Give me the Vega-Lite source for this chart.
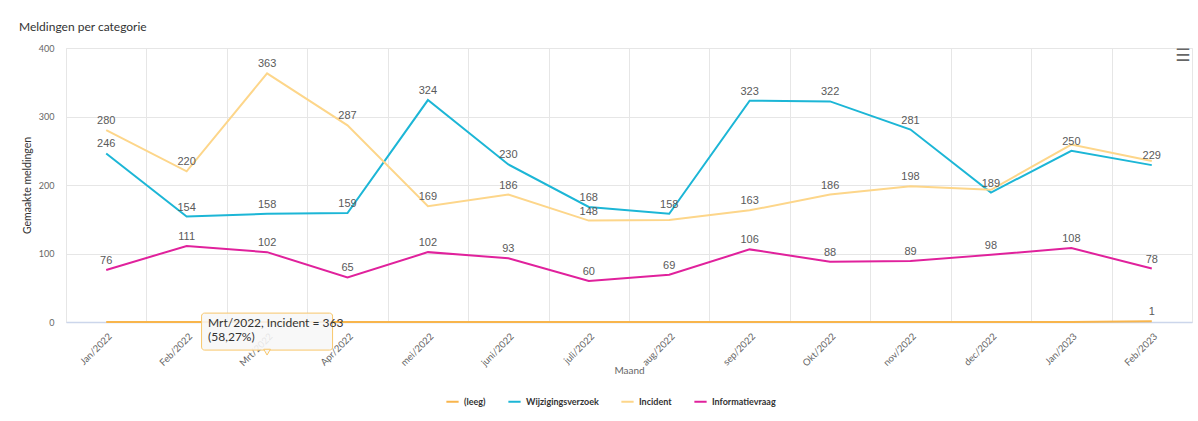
{
  "$schema": "https://vega.github.io/schema/vega-lite/v6.json",
  "autosize": {"type": "none"},
  "width": 1126,
  "height": 274,
  "padding": {"left": 66, "top": 48, "right": 6, "bottom": 99},
  "background": "white",
  "title": {
    "text": "Meldingen per categorie",
    "anchor": "start",
    "frame": "group",
    "dx": -47,
    "offset": 10,
    "font": "Lato",
    "fontSize": 12,
    "fontWeight": "normal",
    "color": "#333333"
  },
  "config": {
    "view": {"stroke": "#e6e6e6", "strokeWidth": 1},
    "font": "Lato"
  },
  "datasets": {
    "meldingen": [
      {"maand": "Jan/2022", "categorie": "(leeg)", "aantal": 0},
      {"maand": "Feb/2022", "categorie": "(leeg)", "aantal": 0},
      {"maand": "Mrt/2022", "categorie": "(leeg)", "aantal": 0},
      {"maand": "Apr/2022", "categorie": "(leeg)", "aantal": 0},
      {"maand": "mei/2022", "categorie": "(leeg)", "aantal": 0},
      {"maand": "juni/2022", "categorie": "(leeg)", "aantal": 0},
      {"maand": "juli/2022", "categorie": "(leeg)", "aantal": 0},
      {"maand": "aug/2022", "categorie": "(leeg)", "aantal": 0},
      {"maand": "sep/2022", "categorie": "(leeg)", "aantal": 0},
      {"maand": "Okt/2022", "categorie": "(leeg)", "aantal": 0},
      {"maand": "nov/2022", "categorie": "(leeg)", "aantal": 0},
      {"maand": "dec/2022", "categorie": "(leeg)", "aantal": 0},
      {"maand": "Jan/2023", "categorie": "(leeg)", "aantal": 0},
      {"maand": "Feb/2023", "categorie": "(leeg)", "aantal": 1},
      {"maand": "Jan/2022", "categorie": "Wijzigingsverzoek", "aantal": 246},
      {"maand": "Feb/2022", "categorie": "Wijzigingsverzoek", "aantal": 154},
      {"maand": "Mrt/2022", "categorie": "Wijzigingsverzoek", "aantal": 158},
      {"maand": "Apr/2022", "categorie": "Wijzigingsverzoek", "aantal": 159},
      {"maand": "mei/2022", "categorie": "Wijzigingsverzoek", "aantal": 324},
      {"maand": "juni/2022", "categorie": "Wijzigingsverzoek", "aantal": 230},
      {"maand": "juli/2022", "categorie": "Wijzigingsverzoek", "aantal": 168},
      {"maand": "aug/2022", "categorie": "Wijzigingsverzoek", "aantal": 158},
      {"maand": "sep/2022", "categorie": "Wijzigingsverzoek", "aantal": 323},
      {"maand": "Okt/2022", "categorie": "Wijzigingsverzoek", "aantal": 322},
      {"maand": "nov/2022", "categorie": "Wijzigingsverzoek", "aantal": 281},
      {"maand": "dec/2022", "categorie": "Wijzigingsverzoek", "aantal": 189},
      {"maand": "Jan/2023", "categorie": "Wijzigingsverzoek", "aantal": 250},
      {"maand": "Feb/2023", "categorie": "Wijzigingsverzoek", "aantal": 229},
      {"maand": "Jan/2022", "categorie": "Incident", "aantal": 280},
      {"maand": "Feb/2022", "categorie": "Incident", "aantal": 220},
      {"maand": "Mrt/2022", "categorie": "Incident", "aantal": 363},
      {"maand": "Apr/2022", "categorie": "Incident", "aantal": 287},
      {"maand": "mei/2022", "categorie": "Incident", "aantal": 169},
      {"maand": "juni/2022", "categorie": "Incident", "aantal": 186},
      {"maand": "juli/2022", "categorie": "Incident", "aantal": 148},
      {"maand": "aug/2022", "categorie": "Incident", "aantal": 149},
      {"maand": "sep/2022", "categorie": "Incident", "aantal": 163},
      {"maand": "Okt/2022", "categorie": "Incident", "aantal": 186},
      {"maand": "nov/2022", "categorie": "Incident", "aantal": 198},
      {"maand": "dec/2022", "categorie": "Incident", "aantal": 193},
      {"maand": "Jan/2023", "categorie": "Incident", "aantal": 259},
      {"maand": "Feb/2023", "categorie": "Incident", "aantal": 235},
      {"maand": "Jan/2022", "categorie": "Informatievraag", "aantal": 76},
      {"maand": "Feb/2022", "categorie": "Informatievraag", "aantal": 111},
      {"maand": "Mrt/2022", "categorie": "Informatievraag", "aantal": 102},
      {"maand": "Apr/2022", "categorie": "Informatievraag", "aantal": 65},
      {"maand": "mei/2022", "categorie": "Informatievraag", "aantal": 102},
      {"maand": "juni/2022", "categorie": "Informatievraag", "aantal": 93},
      {"maand": "juli/2022", "categorie": "Informatievraag", "aantal": 60},
      {"maand": "aug/2022", "categorie": "Informatievraag", "aantal": 69},
      {"maand": "sep/2022", "categorie": "Informatievraag", "aantal": 106},
      {"maand": "Okt/2022", "categorie": "Informatievraag", "aantal": 88},
      {"maand": "nov/2022", "categorie": "Informatievraag", "aantal": 89},
      {"maand": "dec/2022", "categorie": "Informatievraag", "aantal": 98},
      {"maand": "Jan/2023", "categorie": "Informatievraag", "aantal": 108},
      {"maand": "Feb/2023", "categorie": "Informatievraag", "aantal": 78}
    ],
    "annotatie": [{"tekst": "Mrt/2022, Incident = 363", "aandeel": "(58,27%)"}]
  },
  "encoding": {
    "x": {
      "field": "maand",
      "type": "nominal",
      "sort": ["Jan/2022", "Feb/2022", "Mrt/2022", "Apr/2022", "mei/2022", "juni/2022", "juli/2022", "aug/2022", "sep/2022", "Okt/2022", "nov/2022", "dec/2022", "Jan/2023", "Feb/2023"],
      "scale": {"paddingInner": 0, "paddingOuter": 0},
      "axis": {
        "title": "Maand",
        "titleFont": "Lato",
        "titleFontSize": 10,
        "titleFontWeight": "normal",
        "titleColor": "#666666",
        "titlePadding": -2,
        "tickBand": "extent",
        "grid": true,
        "gridColor": "#e6e6e6",
        "gridWidth": 1,
        "ticks": false,
        "domain": true,
        "domainColor": "#ccd6eb",
        "domainWidth": 1.5,
        "labelAngle": -45,
        "labelAlign": "right",
        "labelBaseline": "top",
        "labelPadding": 9,
        "labelOffset": 0,
        "labelFont": "Lato",
        "labelFontSize": 9.5,
        "labelColor": "#666666"
      }
    },
    "y": {
      "type": "quantitative",
      "scale": {"domain": [0, 400], "nice": false},
      "axis": {
        "title": "Gemaakte meldingen",
        "titleFont": "Lato",
        "titleFontSize": 10.5,
        "titleFontWeight": "normal",
        "titleColor": "#333333",
        "titlePadding": 6,
        "values": [0, 100, 200, 300, 400],
        "grid": true,
        "gridColor": "#e6e6e6",
        "domain": false,
        "ticks": false,
        "labelPadding": 12,
        "labelFont": "Lato",
        "labelFontSize": 9,
        "labelColor": "#666666"
      }
    }
  },
  "layer": [
    {
      "data": {"name": "meldingen"},
      "mark": {"type": "line", "strokeWidth": 2, "interpolate": "linear"},
      "encoding": {
        "y": {"field": "aantal", "type": "quantitative"},
        "color": {
          "field": "categorie",
          "type": "nominal",
          "scale": {
            "domain": ["(leeg)", "Wijzigingsverzoek", "Incident", "Informatievraag"],
            "range": ["#f8b54c", "#1cb6d6", "#fdd68a", "#e0219c"]
          },
          "legend": {
            "title": null,
            "orient": "none",
            "direction": "horizontal",
            "legendX": 379,
            "legendY": 346,
            "symbolType": "stroke",
            "symbolStrokeWidth": 2,
            "symbolSize": 150,
            "labelFont": "Lato",
            "labelFontSize": 9,
            "labelFontWeight": "bold",
            "labelColor": "#333333",
            "labelOffset": 4,
            "columnPadding": 18
          }
        }
      }
    },
    {
      "data": {"name": "meldingen"},
      "transform": [
        {"filter": "datum.aantal > 0"},
        {"filter": "!(datum.categorie == 'Incident' && indexof(['aug/2022', 'dec/2022', 'Jan/2023', 'Feb/2023'], datum.maand) >= 0)"}
      ],
      "mark": {
        "type": "text",
        "font": "Liberation Sans",
        "fontSize": 11,
        "color": "#5a5a5a",
        "baseline": "bottom",
        "dy": -4
      },
      "encoding": {
        "y": {"field": "aantal", "type": "quantitative"},
        "text": {"field": "aantal", "type": "quantitative"}
      }
    },
    {
      "data": {"name": "annotatie"},
      "mark": {
        "type": "bar",
        "width": 131,
        "cornerRadius": 3,
        "fill": "#f7f7f7",
        "fillOpacity": 0.88,
        "stroke": "#f8c76a",
        "strokeWidth": 1
      },
      "encoding": {
        "x": {"datum": "Mrt/2022"},
        "y": {"datum": 13},
        "y2": {"datum": -41}
      }
    },
    {
      "data": {"name": "annotatie"},
      "mark": {
        "type": "point",
        "shape": "triangle-down",
        "size": 45,
        "filled": true,
        "fill": "#f7f7f7",
        "stroke": "#f8c76a",
        "strokeWidth": 1,
        "opacity": 1
      },
      "encoding": {
        "x": {"datum": "Mrt/2022"},
        "y": {"datum": -44}
      }
    },
    {
      "data": {"name": "annotatie"},
      "mark": {
        "type": "text",
        "align": "left",
        "baseline": "top",
        "dx": -59,
        "font": "Lato",
        "fontSize": 12,
        "lineHeight": 14,
        "fill": "#333333"
      },
      "encoding": {
        "x": {"datum": "Mrt/2022"},
        "y": {"datum": 6},
        "text": {"value": ["Mrt/2022, Incident = 363", "(58,27%)"]}
      }
    },
    {
      "data": {"name": "annotatie"},
      "mark": {
        "type": "text",
        "align": "center",
        "baseline": "middle",
        "dx": 31,
        "dy": 8,
        "font": "DejaVu Sans",
        "fontSize": 17,
        "fontWeight": "bold",
        "fill": "#666666"
      },
      "encoding": {
        "x": {"datum": "Feb/2023"},
        "y": {"datum": 400},
        "text": {"value": "☰"}
      }
    }
  ]
}
